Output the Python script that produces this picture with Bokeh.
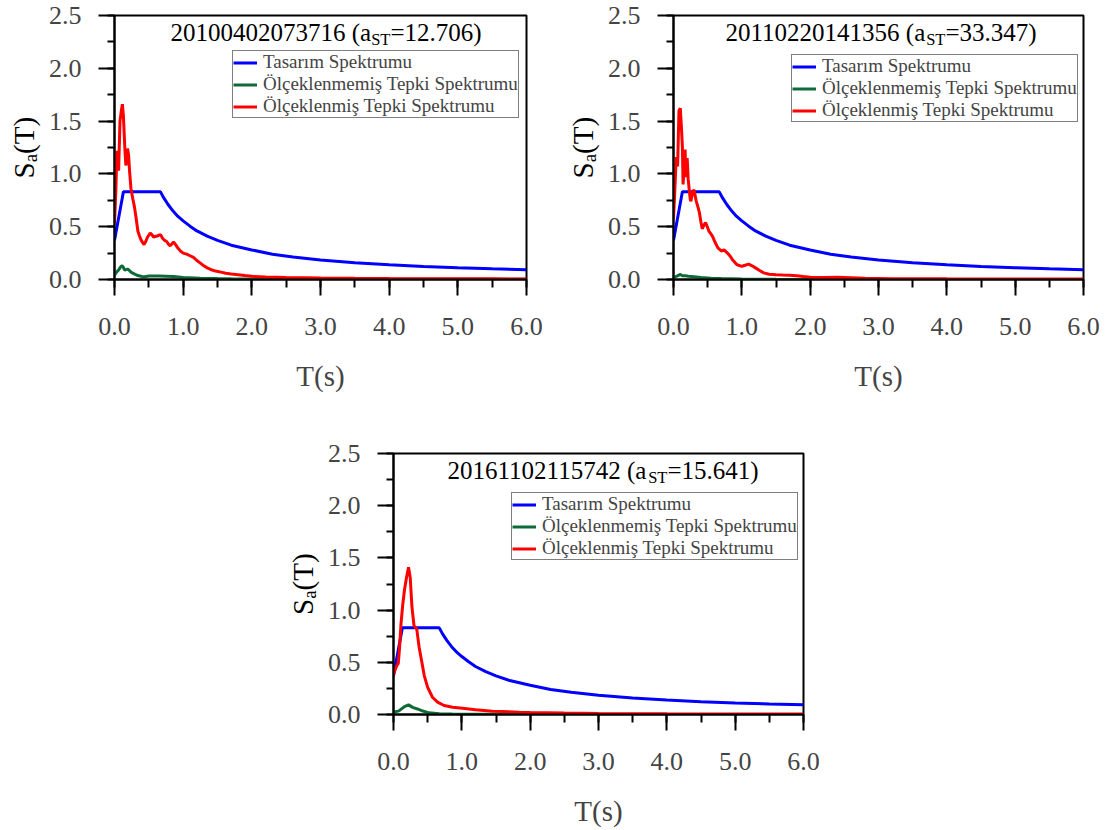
import numpy as np
from bokeh.plotting import figure
from bokeh.models import (Range1d, SingleIntervalTicker, PrintfTickFormatter,
                          Legend, LegendItem, Label, Spacer)
from bokeh.layouts import row, column
from bokeh.embed import file_html
from bokeh.resources import INLINE

FONT = "Liberation Serif"

# ---------------- data ----------------
legend_labels = ["Tasarım Spektrumu", "Ölçeklenmemiş Tepki Spektrumu", "Ölçeklenmiş Tepki Spektrumu"]
codes = ["20100402073716", "20110220141356", "20161102115742"]
ast_values = ["12.706", "33.347", "15.641"]

design_T = [0.0, 0.13, 0.67, 0.72, 0.78, 0.85, 0.92, 1.0, 1.1, 1.2, 1.35, 1.5, 1.7,
            2.0, 2.3, 2.6, 3.0, 3.5, 4.0, 4.5, 5.0, 5.5, 6.0]
design_Sa = [0.37, 0.83, 0.83, 0.77, 0.71, 0.65, 0.60, 0.555, 0.505, 0.46, 0.41, 0.37, 0.325,
             0.28, 0.24, 0.213, 0.185, 0.158, 0.139, 0.123, 0.111, 0.101, 0.093]

red1_T = [0.0, 0.02, 0.035, 0.05, 0.06, 0.08, 0.10, 0.115, 0.13, 0.15, 0.165, 0.18, 0.19,
          0.205, 0.22, 0.24, 0.265, 0.29, 0.315, 0.34, 0.365, 0.39, 0.43, 0.455, 0.48, 0.52,
          0.55, 0.57, 0.60, 0.62, 0.65, 0.67, 0.70, 0.73, 0.76, 0.79, 0.81, 0.84, 0.86, 0.89,
          0.92, 0.96, 1.00, 1.05, 1.10, 1.15, 1.20, 1.25, 1.30, 1.35, 1.40, 1.47, 1.55, 1.62,
          1.70, 1.80, 1.90, 2.00, 2.20, 2.50, 2.80, 3.00, 3.50, 4.00, 4.50, 5.00, 5.50, 6.00]
red1_Sa = [0.53, 0.85, 1.22, 1.12, 1.03, 1.50, 1.60, 1.66, 1.55, 1.25, 1.08, 1.15, 1.24,
           1.18, 1.02, 0.86, 0.77, 0.69, 0.58, 0.46, 0.41, 0.37, 0.33, 0.36, 0.40, 0.44,
           0.42, 0.40, 0.41, 0.41, 0.42, 0.425, 0.39, 0.37, 0.36, 0.33, 0.32, 0.34, 0.355, 0.33,
           0.30, 0.27, 0.25, 0.24, 0.225, 0.21, 0.18, 0.155, 0.13, 0.11, 0.095, 0.08, 0.07, 0.06,
           0.053, 0.045, 0.037, 0.03, 0.024, 0.019, 0.016, 0.014, 0.011, 0.009, 0.008, 0.007, 0.006, 0.005]
green1_T = [0.0, 0.03, 0.06, 0.09, 0.11, 0.13, 0.145, 0.165, 0.19, 0.21, 0.24, 0.28, 0.34,
            0.40, 0.44, 0.50, 0.55, 0.65, 0.75, 0.86, 1.00, 1.25, 1.50, 1.70, 2.00, 2.50,
            3.00, 4.00, 6.00]
green1_Sa = [0.04, 0.07, 0.09, 0.12, 0.131, 0.115, 0.09, 0.093, 0.098, 0.09, 0.07, 0.055, 0.037,
             0.029, 0.026, 0.033, 0.034, 0.033, 0.031, 0.028, 0.02, 0.013, 0.009, 0.0065, 0.005, 0.004,
             0.003, 0.002, 0.0015]

red2_T = [0.0, 0.02, 0.04, 0.06, 0.08, 0.10, 0.115, 0.13, 0.14, 0.155, 0.17, 0.18, 0.20,
          0.215, 0.23, 0.245, 0.255, 0.28, 0.30, 0.33, 0.36, 0.38, 0.40, 0.42, 0.45, 0.47,
          0.50, 0.52, 0.55, 0.57, 0.61, 0.65, 0.70, 0.74, 0.79, 0.83, 0.86, 0.90, 0.93, 1.00,
          1.05, 1.10, 1.15, 1.20, 1.26, 1.32, 1.40, 1.50, 1.60, 1.70, 1.80, 1.90, 2.00, 2.20,
          2.40, 2.60, 2.80, 3.20, 4.00, 5.00, 6.00]
red2_Sa = [0.58, 0.85, 1.16, 1.07, 1.60, 1.62, 1.45, 1.26, 0.90, 1.05, 1.23, 0.97, 1.15,
           0.95, 0.85, 0.76, 0.74, 0.83, 0.85, 0.75, 0.68, 0.63, 0.55, 0.48, 0.52, 0.54,
           0.49, 0.456, 0.43, 0.41, 0.35, 0.30, 0.27, 0.28, 0.25, 0.22, 0.19, 0.16, 0.14, 0.125,
           0.135, 0.145, 0.13, 0.11, 0.085, 0.063, 0.05, 0.045, 0.042, 0.04, 0.036, 0.028, 0.022, 0.02,
           0.021, 0.016, 0.011, 0.008, 0.006, 0.005, 0.004]
green2_T = [0.0, 0.05, 0.10, 0.13, 0.17, 0.22, 0.30, 0.40, 0.55, 0.70, 1.00, 1.50, 2.00, 3.00, 6.00]
green2_Sa = [0.017, 0.033, 0.048, 0.036, 0.035, 0.03, 0.025, 0.018, 0.013, 0.009, 0.0045, 0.0015,
             0.0008, 0.0004, 0.0002]

red3_T = [0.0, 0.03, 0.05, 0.07, 0.09, 0.11, 0.135, 0.16, 0.19, 0.22, 0.245, 0.27, 0.30,
          0.34, 0.375, 0.415, 0.45, 0.50, 0.57, 0.645, 0.74, 0.865, 1.01, 1.20, 1.45, 1.84,
          2.00, 2.50, 3.00, 4.00, 5.00, 6.00]
red3_Sa = [0.38, 0.44, 0.47, 0.49, 0.65, 0.87, 1.05, 1.19, 1.31, 1.41, 1.31, 1.03, 0.85,
           0.82, 0.645, 0.50, 0.373, 0.26, 0.165, 0.118, 0.086, 0.07, 0.06, 0.045, 0.032, 0.022,
           0.02, 0.014, 0.01, 0.007, 0.005, 0.004]
green3_T = [0.0, 0.08, 0.16, 0.22, 0.28, 0.35, 0.43, 0.52, 0.67, 0.86, 1.2, 2.0, 6.0]
green3_Sa = [0.022, 0.035, 0.076, 0.092, 0.068, 0.053, 0.033, 0.016, 0.008, 0.0045, 0.003, 0.0013, 0.0003]

BLUE = "#0000FF"
GREEN = "#0E6B38"
RED = "#FF0000"

XMAX, YMAX = 6.0, 2.5
BASE_CORR = 0.36  # empirical shift of the alphabetic baseline (in em)

panels = [
    dict(code=codes[0], ast=ast_values[0], rT=red1_T, rS=red1_Sa, gT=green1_T, gS=green1_Sa,
         width=516, height=440, left=70, right=34, top=15, bottom=161, leg=(118, 161), tdx=56),
    dict(code=codes[1], ast=ast_values[1], rT=red2_T, rS=red2_Sa, gT=green2_T, gS=green2_Sa,
         width=504, height=440, left=69, right=25, top=15, bottom=160, leg=(118, 157), tdx=52),
    dict(code=codes[2], ast=ast_values[2], rT=red3_T, rS=red3_Sa, gT=green3_T, gS=green3_Sa,
         width=509, height=390, left=69, right=30, top=13, bottom=116, leg=(118, 154), tdx=54),
]


def text_label(x, y, text, size, angle=0.0, align="left", baseline="alphabetic"):
    return Label(x=x, y=y, text=text, angle=angle, text_font=FONT,
                 text_font_size=f"{size}px", text_align=align,
                 text_baseline=baseline, text_color="black")


def make_panel(cfg):
    fw = cfg["width"] - cfg["left"] - cfg["right"]
    fh = cfg["height"] - cfg["top"] - cfg["bottom"]
    p = figure(width=cfg["width"], height=cfg["height"], title=None,
               x_range=Range1d(0, XMAX), y_range=Range1d(0, YMAX),
               output_backend="svg", toolbar_location=None,
               min_border_left=cfg["left"], min_border_right=cfg["right"],
               min_border_top=cfg["top"], min_border_bottom=cfg["bottom"])
    p.background_fill_color = "white"
    p.border_fill_color = "white"
    p.outline_line_color = "black"
    p.outline_line_width = 2
    p.xgrid.visible = False
    p.ygrid.visible = False

    def dx(px):
        return px / fw * XMAX

    def dy(px):
        return px / fh * YMAX

    xa = p.xaxis[0]
    xa.ticker = SingleIntervalTicker(interval=1, num_minor_ticks=2)
    xa.formatter = PrintfTickFormatter(format="%.1f")
    xa.axis_line_width = 2
    xa.major_tick_line_width = 2
    xa.minor_tick_line_width = 2
    xa.major_tick_in = 0
    xa.major_tick_out = 16
    xa.minor_tick_in = 0
    xa.minor_tick_out = 8
    xa.major_label_text_font = FONT
    xa.major_label_text_font_size = "26px"
    xa.major_label_standoff = 22
    xa.axis_label = "T(s)"
    xa.axis_label_text_font = FONT
    xa.axis_label_text_font_size = "29px"
    xa.axis_label_text_font_style = "normal"
    xa.axis_label_standoff = 22

    ya = p.yaxis[0]
    ya.ticker = SingleIntervalTicker(interval=0.5, num_minor_ticks=2)
    ya.formatter = PrintfTickFormatter(format="%.1f")
    ya.axis_line_width = 2
    ya.major_tick_line_width = 2
    ya.minor_tick_line_width = 2
    ya.major_tick_in = 0
    ya.major_tick_out = 16
    ya.minor_tick_in = 0
    ya.minor_tick_out = 7
    ya.major_label_text_font = FONT
    ya.major_label_text_font_size = "26px"
    ya.major_label_standoff = 17

    r_blue = p.line(design_T, design_Sa, line_color=BLUE, line_width=3)
    r_green = p.line(cfg["gT"], cfg["gS"], line_color=GREEN, line_width=3)
    r_red = p.line(cfg["rT"], cfg["rS"], line_color=RED, line_width=3)

    legend = Legend(items=[LegendItem(label=legend_labels[0], renderers=[r_blue]),
                           LegendItem(label=legend_labels[1], renderers=[r_green]),
                           LegendItem(label=legend_labels[2], renderers=[r_red])],
                    location=cfg["leg"], margin=0, padding=0, spacing=0,
                    glyph_width=24, glyph_height=21, label_height=21, label_standoff=6,
                    label_text_font=FONT, label_text_font_size="19px",
                    border_line_color="black", border_line_width=1.5,
                    background_fill_color="white", background_fill_alpha=1.0)
    p.add_layout(legend, "center")

    # title "code (a_ST=value)" with subscript
    f_main, f_sub = 25, 16.5
    base_px = 26 - BASE_CORR * f_main
    x0 = dx(cfg["tdx"])
    w1 = 8.027 * f_main
    w_sub = 1.167 * f_sub
    p.add_layout(text_label(x0, YMAX - dy(base_px), cfg["code"] + " (a", f_main))
    p.add_layout(text_label(x0 + dx(w1), YMAX - dy(26 + 4 - BASE_CORR * f_sub), "ST", f_sub))
    p.add_layout(text_label(x0 + dx(w1 + w_sub), YMAX - dy(base_px), "=" + cfg["ast"] + ")", f_main))
    return p, fh


def make_ylabel(panel, cfg, frame_h, baseline_x, width=44):
    """Narrow figure (frame aligned with the panel) holding the rotated title S_a(T)."""
    q = figure(width=width, height=cfg["height"], title=None,
               x_range=Range1d(0, width), y_range=panel.y_range,
               output_backend="svg", toolbar_location=None,
               x_axis_type=None, y_axis_type=None,
               min_border_left=0, min_border_right=0,
               min_border_top=cfg["top"], min_border_bottom=cfg["bottom"])
    q.outline_line_color = None
    q.background_fill_color = "white"
    q.border_fill_color = "white"

    def dy(px):
        return px / frame_h * YMAX

    fs, fa = 29, 19
    mid = (0.891 - 0.216) / 2
    start = frame_h / 2 + 31          # px below frame top where "S" begins
    w_s, w_a, w_t = 0.556 * fs, 0.444 * fa, 1.277 * fs
    c_s = start - w_s / 2
    c_a = start - w_s - w_a / 2
    c_t = start - w_s - w_a - w_t / 2
    q.add_layout(text_label(baseline_x - mid * fs, YMAX - dy(c_s), "S", fs, np.pi / 2,
                            "center", "middle"))
    q.add_layout(text_label(baseline_x + 3 - mid * fa, YMAX - dy(c_a), "a", fa, np.pi / 2,
                            "center", "middle"))
    q.add_layout(text_label(baseline_x - mid * fs, YMAX - dy(c_t), "(T)", fs, np.pi / 2,
                            "center", "middle"))
    return q


p1, fh1 = make_panel(panels[0])
p2, fh2 = make_panel(panels[1])
p3, fh3 = make_panel(panels[2])

lab1 = make_ylabel(p1, panels[0], fh1, 33.6)
lab2 = make_ylabel(p2, panels[1], fh2, 32.5)
lab3 = make_ylabel(p3, panels[2], fh3, 32.6)

layout = column(row(lab1, p1, lab2, p2),
                row(Spacer(width=280, height=390), lab3, p3))

open("out.html", "w").write(file_html(layout, INLINE))
